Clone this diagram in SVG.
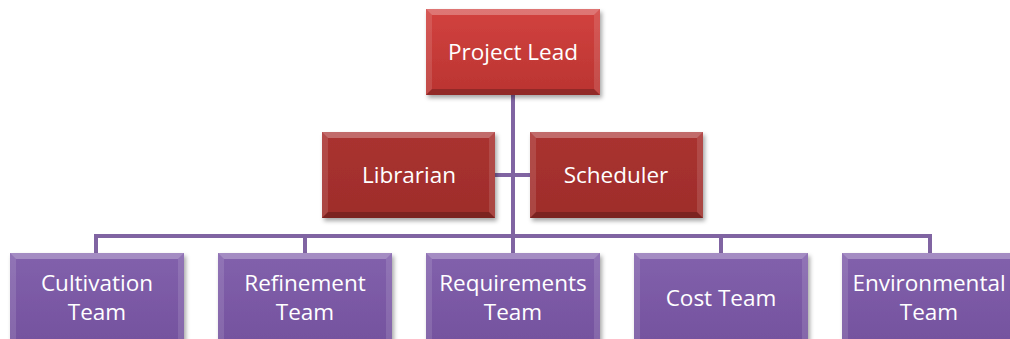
<svg xmlns="http://www.w3.org/2000/svg" width="1010" height="339" viewBox="0 0 1010 339">
<defs>
<filter id="sh" x="-10%" y="-10%" width="125%" height="130%"><feDropShadow dx="2" dy="3" stdDeviation="2" flood-color="#000" flood-opacity="0.35"/></filter>
<linearGradient id="gRed" x1="0" y1="0" x2="0" y2="1"><stop offset="0" stop-color="#D2423F"/><stop offset="1" stop-color="#BA3431"/></linearGradient>
<linearGradient id="gDark" x1="0" y1="0" x2="0" y2="1"><stop offset="0" stop-color="#AA3230"/><stop offset="1" stop-color="#9E2D2B"/></linearGradient>
<linearGradient id="gPur" x1="0" y1="0" x2="0" y2="1"><stop offset="0" stop-color="#8261AC"/><stop offset="1" stop-color="#74529E"/></linearGradient>
</defs>
<style>
.t{font-family:"Open Sans","Liberation Sans",sans-serif;font-size:22.5px;fill:#fff;text-anchor:middle}
.top{fill:#fff;opacity:0.28}
.side{fill:#fff;opacity:0.12}
.bot{fill:#000;opacity:0.22}
.line{stroke:#8064A2;stroke-width:4;fill:none}
</style>
<g id="connectors">
<path class="line" d="M513 95 V253"/>
<path class="line" d="M495 175 H530"/>
<path class="line" d="M96 253 V236 H930 V253"/>
<path class="line" d="M305 236 V253 M721 236 V253"/>
</g>
<g id="projectlead">
<g filter="url(#sh)"><rect x="426" y="9" width="174" height="86" fill="url(#gRed)"/></g>
<polygon class="top" points="426,9 600,9 594,15 432,15"/>
<polygon class="side" points="426,9 432,15 432,89 426,95"/>
<polygon class="side" points="600,9 594,15 594,89 600,95"/>
<polygon class="bot" points="426,95 432,89 594,89 600,95"/>
<text class="t" x="513" y="60">Project Lead</text>
</g>
<g id="librarian">
<g filter="url(#sh)"><rect x="322" y="132" width="173" height="86" fill="url(#gDark)"/></g>
<polygon class="top" points="322,132 495,132 489,138 328,138"/>
<polygon class="side" points="322,132 328,138 328,212 322,218"/>
<polygon class="side" points="495,132 489,138 489,212 495,218"/>
<polygon class="bot" points="322,218 328,212 489,212 495,218"/>
<text class="t" x="409" y="183">Librarian</text>
</g>
<g id="scheduler">
<g filter="url(#sh)"><rect x="530" y="132" width="173" height="86" fill="url(#gDark)"/></g>
<polygon class="top" points="530,132 703,132 697,138 536,138"/>
<polygon class="side" points="530,132 536,138 536,212 530,218"/>
<polygon class="side" points="703,132 697,138 697,212 703,218"/>
<polygon class="bot" points="530,218 536,212 697,212 703,218"/>
<text class="t" x="616" y="183">Scheduler</text>
</g>
<g id="cultivation">
<g filter="url(#sh)"><rect x="10" y="253" width="174" height="92" fill="url(#gPur)"/></g>
<polygon class="top" points="10,253 184,253 178,259 16,259"/>
<polygon class="side" points="10,253 16,259 16,345 10,345"/>
<polygon class="side" points="184,253 178,259 178,345 184,345"/>
<text class="t" x="97" y="291">Cultivation</text>
<text class="t" x="97" y="320">Team</text>
</g>
<g id="refinement">
<g filter="url(#sh)"><rect x="218" y="253" width="174" height="92" fill="url(#gPur)"/></g>
<polygon class="top" points="218,253 392,253 386,259 224,259"/>
<polygon class="side" points="218,253 224,259 224,345 218,345"/>
<polygon class="side" points="392,253 386,259 386,345 392,345"/>
<text class="t" x="305" y="291">Refinement</text>
<text class="t" x="305" y="320">Team</text>
</g>
<g id="requirements">
<g filter="url(#sh)"><rect x="426" y="253" width="174" height="92" fill="url(#gPur)"/></g>
<polygon class="top" points="426,253 600,253 594,259 432,259"/>
<polygon class="side" points="426,253 432,259 432,345 426,345"/>
<polygon class="side" points="600,253 594,259 594,345 600,345"/>
<text class="t" x="513" y="291">Requirements</text>
<text class="t" x="513" y="320">Team</text>
</g>
<g id="cost">
<g filter="url(#sh)"><rect x="634" y="253" width="174" height="92" fill="url(#gPur)"/></g>
<polygon class="top" points="634,253 808,253 802,259 640,259"/>
<polygon class="side" points="634,253 640,259 640,345 634,345"/>
<polygon class="side" points="808,253 802,259 802,345 808,345"/>
<text class="t" x="721" y="306">Cost Team</text>
</g>
<g id="environmental">
<g filter="url(#sh)"><rect x="842" y="253" width="174" height="92" fill="url(#gPur)"/></g>
<polygon class="top" points="842,253 1016,253 1010,259 848,259"/>
<polygon class="side" points="842,253 848,259 848,345 842,345"/>
<text class="t" x="929" y="291">Environmental</text>
<text class="t" x="929" y="320">Team</text>
</g>
</svg>
